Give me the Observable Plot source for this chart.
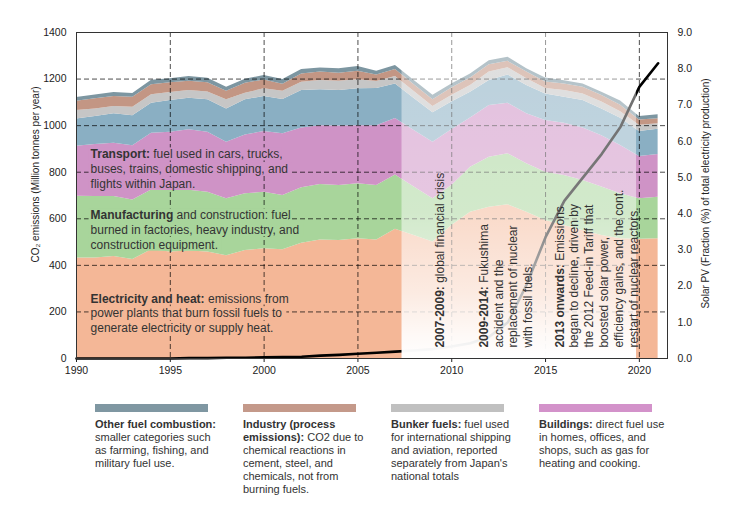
<!DOCTYPE html>
<html><head><meta charset="utf-8">
<script src="https://cdn.jsdelivr.net/npm/d3@7"></script>
<script src="https://cdn.jsdelivr.net/npm/@observablehq/plot@0.6"></script>
<style>
body{margin:0;background:#fff;font-family:"Liberation Sans",Arial,sans-serif;}
#wrap{position:relative;width:750px;height:518px;overflow:hidden;}
#legend{position:absolute;left:95px;top:404px;display:flex;}
.item{width:148px;font-size:11px;line-height:13px;color:#333;}
.sw{width:113px;height:8px;margin-bottom:6px;}
.ln{white-space:nowrap;height:13px;}
.ln b{font-weight:bold;}
</style></head><body><div id="wrap"><div id="chart"></div><div id="legend"></div></div>
<script>
const years = [1990,1991,1992,1993,1994,1995,1996,1997,1998,1999,2000,2001,2002,2003,2004,2005,2006,2007,2008,2009,2010,2011,2012,2013,2014,2015,2016,2017,2018,2019,2020,2021];

const layerNames = ["Electricity and heat","Manufacturing and construction","Transport","Buildings","Bunker fuels","Industry (process emissions)","Other fuel combustion"];
const layerColors = ["#F4B797","#A8D59B","#CF93C6","#8AAFC3","#C6C6C6","#C39684","#7D96A1"];

const electricity = [432,432,438,425,467,457,462,457,441,464,471,467,495,509,507,514,509,555,528,500,571,628,650,660,628,593,571,550,528,514,512,514];
const manufacturing = [265,264,258,256,257,264,261,257,245,243,243,233,238,238,236,236,234,233,208,186,172,193,214,219,208,207,215,214,208,193,174,179];
const transport = [214,223,228,233,243,251,259,258,243,253,261,265,257,253,256,250,257,243,243,243,239,212,222,217,215,222,224,226,221,208,181,183];
const buildings = [118,120,127,129,129,136,136,139,143,151,150,147,161,154,152,158,160,148,138,126,119,110,108,122,121,114,112,118,115,117,108,108];
const bunker = [36,33,31,36,37,34,33,33,39,28,33,36,35,40,40,39,30,32,30,27,28,29,36,31,29,24,29,28,29,28,27,24];
const industry = [40,43,43,43,43,42,40,40,37,43,38,30,36,36,34,37,28,30,29,29,33,33,32,27,29,27,28,29,28,28,22,22];
const otherFuel = [16,17,17,16,19,17,20,20,17,17,19,20,19,18,19,20,16,17,18,19,17,17,17,18,14,18,14,14,14,18,15,17];
const series = [electricity, manufacturing, transport, buildings, bunker, industry, otherFuel];

const solarPV = [0,0,0,0,0,0,0.01,0.01,0.02,0.02,0.03,0.04,0.05,0.08,0.1,0.13,0.16,0.19,0.22,0.26,0.33,0.42,0.6,1.0,2.05,3.35,4.35,5.0,5.65,6.4,7.5,8.15];

const xTicks = [1990,1995,2000,2005,2010,2015,2020];
const xGrid = [1995,2000,2005,2010,2015,2020];
const yTicks = [0,200,400,600,800,1000,1200,1400];
const yGrid = [200,400,600,800,1000,1200];
const solarTicks = [0,1,2,3,4,5,6,7,8,9];
const solarMax = 9;
const emissionsMax = 1400;

const fadeSpan = [{x1: 2007.35, x2: 2019.85, y1: 0, y2: 1400}];

const areaNotes = [
  {text: "Transport: fuel used in cars, trucks,\nbuses, trains, domestic shipping, and\nflights within Japan.", year: 1990.75, value: 904, layer: 2},
  {text: "Manufacturing and construction: fuel\nburned in factories, heavy industry, and\nconstruction equipment.", year: 1990.75, value: 642, layer: 1},
  {text: "Electricity and heat: emissions from\npower plants that burn fossil fuels to\ngenerate electricity or supply heat.", year: 1990.75, value: 285, layer: 0}
];
const eventNotes = [
  {text: "2007-2009: global financial crisis", year: 2009.02, value: 47},
  {text: "2009-2014: Fukushima\naccident and the\nreplacement of nuclear\nwith fossil fuels.", year: 2011.37, value: 47},
  {text: "2013 onwards: Emissions\nbegan to decline, driven by\nthe 2012 Feed-in Tariff that\nboosted solar power,\nefficiency gains, and the cont.\nrestart of nuclear reactors.", year: 2015.41, value: 47}
];
const boldKeys = ["Transport:", "Manufacturing", "Electricity and heat:", "2007-2009:", "2009-2014:", "2013 onwards:"];

const leftTitle = "CO₂ emissions (Million tonnes per year)";
const rightTitle = "Solar PV (Fraction (%) of total electricity production)";

const legendItems = [
  {color: "#7F97A2", bold: "Other fuel combustion:", text: "\nsmaller categories such\nas farming, fishing, and\nmilitary fuel use."},
  {color: "#C4998A", bold: "Industry (process\nemissions):", text: " CO2 due to\nchemical reactions in\ncement, steel, and\nchemicals, not from\nburning fuels."},
  {color: "#C0C0C0", bold: "Bunker fuels:", text: " fuel used\nfor international shipping\nand aviation, reported\nseparately from Japan's\nnational totals"},
  {color: "#D392CA", bold: "Buildings:", text: " direct fuel use\nin homes, offices, and\nshops, such as gas for\nheating and cooking."}
];

const table = layerNames.flatMap((name, k) => years.map((year, i) => ({year, layer: name, value: series[k][i]})));
const solarTable = years.map((year, i) => ({year, solar: solarPV[i]}));
const toLeft = v => v * emissionsMax / solarMax;

const chart = Plot.plot({
  width: 750, height: 390,
  marginLeft: 76, marginRight: 83, marginTop: 32, marginBottom: 32,
  style: {fontFamily: "'Liberation Sans', Arial, sans-serif", fontSize: "10.5px", color: "#222", background: "#fff", overflow: "visible"},
  x: {domain: [1990, 2021.5], axis: null},
  y: {domain: [0, 1400], axis: null},
  color: {domain: layerNames, range: layerColors},
  marks: [
    Plot.areaY(table, {x: "year", y: "value", fill: "layer", z: "layer"}),
    Plot.gridX(xGrid, {stroke: "#000", strokeOpacity: 0.7, strokeDasharray: "5,3"}),
    Plot.gridY(yGrid, {stroke: "#000", strokeOpacity: 0.7, strokeDasharray: "5,3"}),
    Plot.line(solarTable, {x: "year", y: d => toLeft(d.solar), stroke: "#000", strokeWidth: 2.6}),
    Plot.rect(fadeSpan, {x1: "x1", x2: "x2", y1: "y1", y2: "y2", fill: "url(#fade)"}),
    Plot.axisX(xTicks, {tickSize: 4, tickPadding: 4, tickFormat: d => String(d), label: null, stroke: "#222"}),
    Plot.axisY(yTicks, {anchor: "left", tickSize: 0, tickPadding: 10, tickFormat: d => String(d), label: null}),
    Plot.axisY(solarTicks.map(toLeft), {anchor: "right", tickSize: 0, tickPadding: 10, tickFormat: d => (d * solarMax / emissionsMax).toFixed(1), label: null}),
    Plot.frame({stroke: "#333"}),
    Plot.text(areaNotes, {x: "year", y: "value", text: "text", textAnchor: "start", lineAnchor: "top", lineHeight: 1.22, fontSize: 12, fill: "#333"}),
    Plot.text(eventNotes, {x: "year", y: "value", text: "text", textAnchor: "start", lineAnchor: "top", lineHeight: 1.23, rotate: -90, fontSize: 12, fill: "#333"}),
    Plot.text([leftTitle], {text: d => d, frameAnchor: "left", textAnchor: "middle", dx: -41, dy: -21, rotate: -90, fontSize: 10, fill: "#222"}),
    Plot.text([rightTitle], {text: d => d, frameAnchor: "right", textAnchor: "middle", dx: 38, dy: -2, rotate: -90, fontSize: 10, fill: "#222"})
  ]
});

document.getElementById("chart").appendChild(chart);

const ns = "http://www.w3.org/2000/svg";
// gradient for the faded period
const defs = document.createElementNS(ns, "defs");
const grad = document.createElementNS(ns, "linearGradient");
grad.setAttribute("id", "fade");
grad.setAttribute("x1", "0"); grad.setAttribute("y1", "0");
grad.setAttribute("x2", "0"); grad.setAttribute("y2", "1");
[[0, 0.42], [0.55, 0.48], [0.8, 0.72], [0.93, 0.92], [1, 1]].forEach(([o, a]) => {
  const s = document.createElementNS(ns, "stop");
  s.setAttribute("offset", o);
  s.setAttribute("stop-color", "#fff");
  s.setAttribute("stop-opacity", a);
  grad.appendChild(s);
});
defs.appendChild(grad);
chart.insertBefore(defs, chart.firstChild);

// background boxes behind each line of the area labels
chart.querySelectorAll("text").forEach(t => {
  const note = areaNotes.find(n => t.textContent.startsWith(n.text.split("\n")[0].slice(0, 12)));
  if (!note) return;
  const spans = t.querySelectorAll("tspan");
  const parts = spans.length ? [...spans] : [t];
  parts.forEach(p => {
    let bb;
    try { bb = p.getBBox(); } catch (e) { bb = t.getBBox(); }
    const r = document.createElementNS(ns, "rect");
    r.setAttribute("x", bb.x - 2);
    r.setAttribute("y", bb.y);
    r.setAttribute("width", bb.width + 6);
    r.setAttribute("height", bb.height - 1);
    r.setAttribute("fill", layerColors[note.layer]);
    if (t.getAttribute("transform")) r.setAttribute("transform", t.getAttribute("transform"));
    t.parentNode.insertBefore(r, t);
  });
});

// bold lead-ins
chart.querySelectorAll("text").forEach(t => {
  const spans = t.querySelectorAll("tspan");
  const nodes = spans.length ? [...spans] : [t];
  nodes.forEach(n => {
    const s = n.textContent;
    const k = boldKeys.find(k => s.startsWith(k));
    if (!k) return;
    n.textContent = "";
    const b = document.createElementNS(ns, "tspan");
    b.setAttribute("font-weight", "bold");
    b.textContent = k;
    n.appendChild(b);
    n.appendChild(document.createTextNode(s.slice(k.length)));
  });
});

// legend: one block per line, bold lead-in kept per line
const legend = d3.select("#legend");
legendItems.forEach(it => {
  const d = legend.append("div").attr("class", "item");
  d.append("div").attr("class", "sw").style("background", it.color);
  const lines = (it.bold + it.text).split("\n");
  let boldLeft = it.bold.replace(/\n/g, "").length;
  lines.forEach(line => {
    const row = d.append("div").attr("class", "ln");
    const nb = Math.min(boldLeft, line.length);
    boldLeft -= nb;
    if (nb > 0) row.append("b").text(line.slice(0, nb));
    if (line.length > nb) row.append("span").text(line.slice(nb));
  });
});
</script></body></html>
